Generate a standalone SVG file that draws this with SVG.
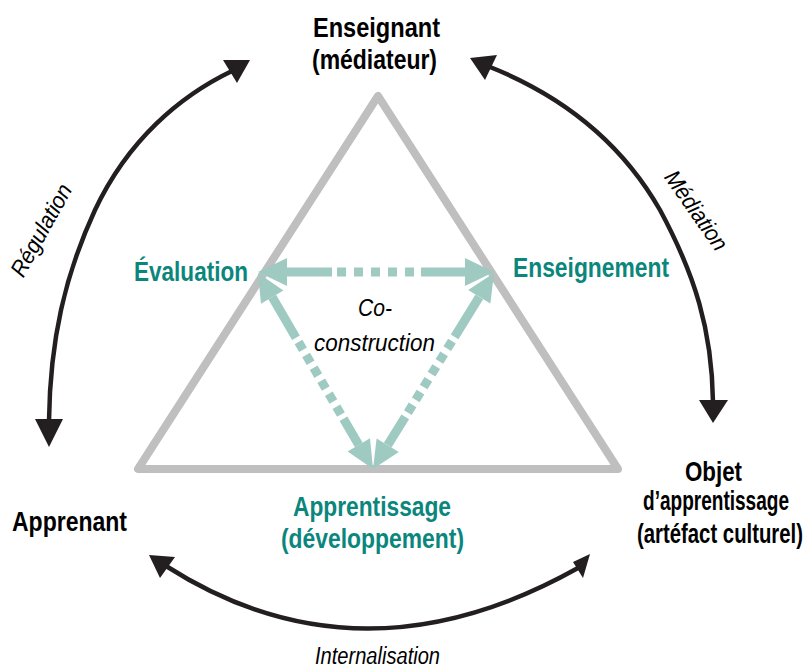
<svg xmlns="http://www.w3.org/2000/svg" width="809" height="670" viewBox="0 0 809 670">
<style>
.lbl{font-family:"Liberation Sans Narrow","Liberation Sans",Arial,sans-serif;font-weight:bold;font-size:28px;fill:#000}
.teal{fill:#0b867d}
.it{font-family:"Liberation Sans Narrow","Liberation Sans",Arial,sans-serif;font-style:italic;font-size:23px;fill:#000}
.arc{fill:none;stroke:#231f20;stroke-width:4.5}
.head{fill:#231f20}
.shaft{fill:none;stroke:#9fcac2;stroke-width:9}
.ihead{fill:#9fcac2}
</style>
<rect width="809" height="670" fill="#fff"/>
<g id="triangle">
<polygon points="378,96 138,469 618,469" fill="none" stroke="#bfbfbf" stroke-width="8" stroke-linejoin="round"/>
</g>
<g id="connectors">
<path class="arc" d="M232,71 C180,96 128,140 95,210 C65,275 50,340 49,421"/>
<polygon class="head" points="250,60 223,60 237,83"/>
<polygon class="head" points="49,447 35,419 63,419"/>
<path class="arc" d="M490,67 C560,95 620,140 660,210 C695,275 712,330 713,402"/>
<polygon class="head" points="470,58 497,55 485,80"/>
<polygon class="head" points="713,423 699,400 728,400"/>
<path class="arc" d="M166,566 Q360,690 578,568"/>
<polygon class="head" points="149,555 175,557 160,578"/>
<polygon class="head" points="590,554 573,562 583,578"/>
<path class="shaft" d="M287,272 L465,272" stroke-dasharray="45 5 9 8 9 8 9 8 9 8 9 7 100"/>
<polygon class="ihead" points="258,272 287,258 287,286"/>
<polygon class="ihead" points="494,272 465,258 465,286"/>
<path class="shaft" d="M272.2,297.1 L358.8,444.9" stroke-dasharray="47 5 9 6 9 6 9 6 9 6 9 6 9 5 100"/>
<polygon class="ihead" points="258,273 261,303.7 283.4,290.5"/>
<polygon class="ihead" points="373,469 347.6,451.5 370,438.3"/>
<path class="shaft" d="M479.3,296.8 L387.7,445.2" stroke-dasharray="47 5 9 6 9 6 9 6 9 6 9 6 9 5 100"/>
<polygon class="ihead" points="494,273 490.4,303.6 468.2,290"/>
<polygon class="ihead" points="373,469 398.8,452 376.6,438.4"/>
</g>
<g id="enseignant">
<text class="lbl" x="313" y="37" textLength="127" lengthAdjust="spacingAndGlyphs">Enseignant</text>
<text class="lbl" x="312" y="69" textLength="125" lengthAdjust="spacingAndGlyphs">(médiateur)</text>
</g>
<g id="apprenant">
<text class="lbl" x="12" y="531" textLength="115" lengthAdjust="spacingAndGlyphs">Apprenant</text>
</g>
<g id="objet">
<text class="lbl" x="685" y="481" textLength="57" lengthAdjust="spacingAndGlyphs">Objet</text>
<text class="lbl" x="643" y="510" textLength="146" lengthAdjust="spacingAndGlyphs">d’apprentissage</text>
<text class="lbl" x="637" y="543" textLength="166" lengthAdjust="spacingAndGlyphs">(artéfact culturel)</text>
</g>
<g id="evaluation">
<text class="lbl teal" x="134" y="281" textLength="114" lengthAdjust="spacingAndGlyphs">Évaluation</text>
</g>
<g id="enseignement">
<text class="lbl teal" x="513" y="277" textLength="156" lengthAdjust="spacingAndGlyphs">Enseignement</text>
</g>
<g id="apprentissage">
<text class="lbl teal" x="293" y="516" textLength="158" lengthAdjust="spacingAndGlyphs">Apprentissage</text>
<text class="lbl teal" x="281" y="548" textLength="183" lengthAdjust="spacingAndGlyphs">(développement)</text>
</g>
<g id="coconstruction">
<text class="it" x="358" y="316" textLength="34" lengthAdjust="spacingAndGlyphs">Co-</text>
<text class="it" x="314" y="351" textLength="121" lengthAdjust="spacingAndGlyphs">construction</text>
</g>
<g id="arc-labels">
<text class="it" transform="translate(48,234) rotate(-61)" x="-51" y="0" font-size="21" textLength="102" lengthAdjust="spacingAndGlyphs">Régulation</text>
<text class="it" transform="translate(690,215) rotate(55)" x="-46" y="0" font-size="21" textLength="92" lengthAdjust="spacingAndGlyphs">Médiation</text>
<text class="it" x="315" y="664" font-size="22" textLength="125" lengthAdjust="spacingAndGlyphs">Internalisation</text>
</g>
</svg>
